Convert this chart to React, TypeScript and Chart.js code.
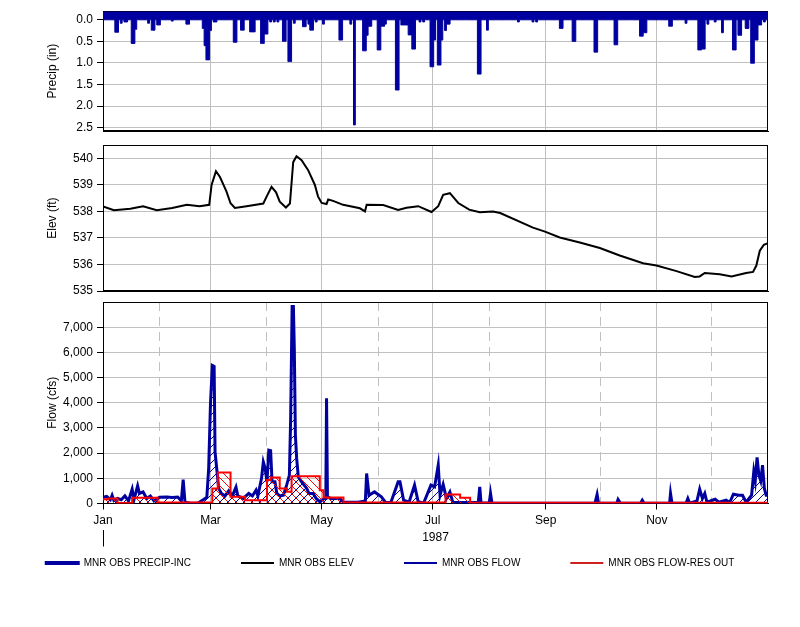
import React, { useEffect, useRef } from 'react';
import { Chart, registerables } from 'chart.js';

Chart.register(...registerables);

// ---- axis data (x = day of 1987, 0 = Jan 1) ----
const monthStarts = [0, 31, 59, 90, 120, 151, 181, 212, 243, 273, 304, 334];
const monthNames = ['Jan', 'Feb', 'Mar', 'Apr', 'May', 'Jun', 'Jul', 'Aug', 'Sep', 'Oct', 'Nov', 'Dec'];
const majorMonthDays = [0, 59, 120, 181, 243, 304];
const minorMonthDays = [31, 90, 151, 212, 273, 334];
const yearLabel = '1987';
const daysInYear = 365;

const precipTicks = [0, 0.5, 1, 1.5, 2, 2.5];
const elevTicks = [535, 536, 537, 538, 539, 540];
const flowTicks = [0, 1000, 2000, 3000, 4000, 5000, 6000, 7000];

const legendLabels = ['MNR OBS PRECIP-INC', 'MNR OBS ELEV', 'MNR OBS FLOW', 'MNR OBS FLOW-RES OUT'];

// ---- series: daily precip (in), only rainy days listed; others are 0 ----
const precipEvents: [number, number][] = [
  [7, 0.29], [8, 0.29], [10, 0.08], [12, 0.05], [13, 0.05], [16, 0.55], [17, 0.55], [18, 0.22],
  [25, 0.08], [27, 0.24], [28, 0.24], [30, 0.12], [31, 0.12], [38, 0.03], [46, 0.1], [47, 0.1],
  [55, 0.2], [56, 0.6], [57, 0.93], [58, 0.93], [59, 0.25], [61, 0.05], [62, 0.05],
  [72, 0.52], [73, 0.52], [76, 0.24], [77, 0.24], [81, 0.28], [82, 0.28], [83, 0.28],
  [87, 0.55], [88, 0.55], [89, 0.33], [90, 0.33], [92, 0.05], [94, 0.05], [96, 0.05],
  [99, 0.5], [100, 0.5], [102, 0.97], [103, 0.97], [105, 0.08], [110, 0.16], [111, 0.16],
  [113, 0.1], [114, 0.24], [115, 0.24], [117, 0.05], [121, 0.1], [130, 0.47], [131, 0.47],
  [136, 0.1], [138, 2.44], [143, 0.72], [144, 0.72], [145, 0.36], [146, 0.15], [147, 0.15],
  [151, 0.7], [152, 0.7], [153, 0.15], [154, 0.15], [155, 0.1], [161, 1.63], [162, 1.63],
  [164, 0.12], [165, 0.12], [166, 0.12], [167, 0.12], [168, 0.35], [169, 0.35], [170, 0.68],
  [171, 0.68], [174, 0.05], [176, 0.05], [180, 1.09], [181, 1.09], [182, 0.47], [184, 1.05],
  [185, 1.05], [186, 0.47], [188, 0.25], [189, 0.1], [190, 0.1], [206, 1.26], [207, 1.26],
  [211, 0.24], [228, 0.05], [236, 0.05], [238, 0.05], [251, 0.2], [252, 0.2], [258, 0.5],
  [259, 0.5], [270, 0.75], [271, 0.75], [281, 0.58], [282, 0.58], [295, 0.38], [296, 0.38],
  [297, 0.3], [298, 0.3], [311, 0.15], [312, 0.15], [320, 0.08], [327, 0.7], [328, 0.7],
  [329, 0.68], [330, 0.68], [332, 0.1], [336, 0.05], [340, 0.3], [346, 0.7], [347, 0.7],
  [349, 0.36], [350, 0.36], [353, 0.2], [354, 0.2], [356, 1.01], [357, 1.01], [358, 0.47],
  [359, 0.47], [360, 0.12], [361, 0.12], [363, 0.05],
];

// ---- series: pool elevation (ft) ----
const elevSeries: [number, number][] = [
  [0, 538.19], [6, 538.05], [15, 538.1], [22, 538.2], [29.5, 538.05], [38, 538.13], [46, 538.25],
  [53, 538.2], [58.3, 538.25], [59.6, 539.0], [62, 539.52], [64.2, 539.3], [67.8, 538.75],
  [70, 538.31], [72.4, 538.13], [78.8, 538.2], [88, 538.3], [89.8, 538.56], [92.5, 538.93],
  [95, 538.72], [97, 538.37], [100.4, 538.15], [102.6, 538.3], [104.4, 539.86], [106.2, 540.08],
  [109, 539.93], [112.6, 539.56], [116.3, 539.0], [118, 538.57], [120, 538.32], [122.7, 538.28],
  [123.6, 538.45], [126.3, 538.4], [131.8, 538.25], [141, 538.12], [143.8, 538.0], [144.7, 538.25],
  [153.8, 538.24], [162, 538.06], [166.6, 538.14], [173, 538.2], [180.3, 537.98], [184, 538.2],
  [186.7, 538.63], [190.4, 538.69], [195, 538.32], [201, 538.07], [206.8, 537.97], [214, 538.0],
  [218, 537.94], [236, 537.39], [242.6, 537.24], [250.7, 537.02], [261.7, 536.83], [272.7, 536.62],
  [283.6, 536.34], [296.4, 536.05], [303.8, 535.96], [314.8, 535.75], [324.8, 535.53],
  [327.5, 535.55], [330.3, 535.68], [338.5, 535.63], [345, 535.55], [353, 535.68], [356.8, 535.72],
  [358.6, 535.96], [360.5, 536.52], [362.7, 536.74], [365, 536.8],
];

// ---- series: observed flow (cfs) ----
const flowSeries: [number, number][] = [
  [0, 250], [2, 280], [4, 150], [5, 330], [6, 120], [8, 200], [10, 150], [12, 300], [14, 100],
  [16, 570], [17, 150], [19, 700], [20, 400], [22, 460], [24, 200], [26, 300], [28, 100],
  [31, 250], [35, 260], [38, 240], [41, 260], [43, 100], [44, 950], [45, 50], [48, 10], [52, 10],
  [55, 150], [57, 250], [58, 1400], [59, 3980], [60, 5480], [61, 5440], [61.5, 2050], [62.4, 1400],
  [63.5, 600], [65, 400], [67, 300], [69, 500], [71, 300], [73, 650], [74, 300], [77, 200],
  [80, 400], [82, 300], [84, 530], [85, 300], [87, 1000], [88, 1650], [89, 1400], [90, 860],
  [91, 2120], [92, 2100], [92.8, 860], [94.4, 860], [95.4, 400], [97, 300], [99, 330],
  [100.8, 730], [102.3, 1130], [103, 3380], [103.8, 7820], [104.5, 7820], [105, 6160],
  [105.6, 2720], [106.3, 1790], [107.2, 1060], [109, 860], [111.8, 600], [113, 400], [115.4, 400],
  [117, 200], [119, 70], [121.5, 200], [122.3, 200], [122.7, 4180], [123.2, 260], [125, 200],
  [130, 200], [132, 50], [140, 50], [144, 100], [144.7, 1190], [146, 330], [149, 460],
  [152.8, 265], [155, 50], [158, 40], [162, 860], [163, 860], [165, 130], [168, 50], [171, 730],
  [173, 70], [176, 20], [180, 730], [182, 660], [184, 1525], [185, 330], [186.7, 760],
  [188.5, 200], [190.4, 460], [192, 50], [200, 40], [206, 50], [206.8, 660], [207.5, 20],
  [212, 20], [212.7, 400], [213.5, 20], [230, 10], [250, 10], [270, 10], [271.2, 360], [272, 10],
  [282, 10], [282.7, 160], [284, 10], [295, 10], [296, 130], [297, 10], [311, 10], [311.5, 400],
  [312.3, 10], [320, 10], [321, 200], [322, 10], [326, 100], [327.5, 570], [329, 200],
  [330.3, 400], [331.5, 50], [336, 170], [338, 50], [342, 130], [344, 40], [346, 370], [349, 330],
  [351, 330], [353, 50], [356, 330], [357.2, 1260], [358, 900], [359, 1830], [360, 1130],
  [361, 900], [362, 1525], [363, 600], [364, 330], [365, 330],
];

// ---- series: reservoir outflow (cfs), value holds from day onward ----
const resOutSeries: [number, number][] = [
  [0, 170], [3, 200], [8, 20], [16, 225], [30, 40], [60, 600], [63, 1230], [70, 270], [78, 130],
  [90, 930], [92, 1030], [97, 600], [101, 470], [103.5, 1080], [119, 530], [121, 240], [132, 40],
  [188, 360], [196, 225], [201.5, 30], [365, 30],
];

const BLUE = '#0000A0';
const RED = '#FF0000';
const GRID = '#c0c0c0';
const FONT = { family: 'Arial, "Liberation Sans", sans-serif', size: 12 };

const framePlugin = {
  id: 'frame',
  beforeDatasetsDraw(chart: any) {
    const { ctx, chartArea: a } = chart;
    ctx.save();
    ctx.strokeStyle = '#000';
    ctx.lineWidth = 1;
    const l = Math.round(a.left) + 0.5;
    const t = Math.round(a.top) + 0.5;
    const r = Math.round(a.right) - 0.5;
    const b = Math.round(a.bottom) - 0.5;
    ctx.strokeRect(l, t, r - l, b - t);
    ctx.restore();
  },
};

function hatch(color: string, forward: boolean) {
  const s = 8;
  const c = document.createElement('canvas');
  c.width = s;
  c.height = s;
  const g = c.getContext('2d')!;
  g.strokeStyle = color;
  g.lineWidth = 1;
  g.beginPath();
  if (forward) {
    g.moveTo(-1, s + 1); g.lineTo(s + 1, -1);
    g.moveTo(-1, 1); g.lineTo(1, -1);
    g.moveTo(s - 1, s + 1); g.lineTo(s + 1, s - 1);
  } else {
    g.moveTo(-1, -1); g.lineTo(s + 1, s + 1);
    g.moveTo(s - 1, -1); g.lineTo(s + 1, 1);
    g.moveTo(-1, s - 1); g.lineTo(1, s + 1);
  }
  g.stroke();
  return g.createPattern(c, 'repeat') as CanvasPattern;
}

const setTicks = (vals: number[]) => (s: any) => {
  s.ticks = vals.map((v) => ({ value: v }));
};

const yAxisBase = (title: string, ticks: number[]) => ({
  type: 'linear' as const,
  afterBuildTicks: setTicks(ticks),
  afterFit: (s: any) => { s.width = 62; },
  ticks: { font: FONT, color: '#000', padding: 4 },
  grid: { color: GRID, tickColor: '#000', tickLength: 6 },
  border: { color: '#000' },
  title: { display: true, text: title, font: FONT, color: '#000', padding: { top: 4, bottom: 4 } },
});

const xHiddenAxis = () => ({
  type: 'linear' as const,
  min: 0,
  max: daysInYear,
  afterBuildTicks: setTicks(majorMonthDays),
  afterFit: (s: any) => { s.height = 0; },
  ticks: { display: false },
  grid: { color: GRID, drawTicks: false },
  border: { color: '#000' },
});

export default function App() {
  const c1 = useRef<HTMLCanvasElement>(null);
  const c2 = useRef<HTMLCanvasElement>(null);
  const c3 = useRef<HTMLCanvasElement>(null);
  const c4 = useRef<HTMLCanvasElement>(null);

  useEffect(() => {
    const byDay = new Map(precipEvents.map(([d, v]) => [d, v]));
    const precipDaily: { x: number; y: number }[] = [];
    for (let d = 0; d <= daysInYear; d++) precipDaily.push({ x: d, y: byDay.get(d) ?? 0 });

    const common = { responsive: false, animation: false as const, maintainAspectRatio: false };
    const noPlugins = { legend: { display: false }, tooltip: { enabled: false } };

    const precipChart = new Chart(c1.current!, {
      type: 'line',
      data: {
        datasets: [{
          label: legendLabels[0],
          data: precipDaily,
          stepped: 'middle',
          borderColor: BLUE,
          backgroundColor: BLUE,
          borderWidth: 1,
          pointRadius: 0,
          fill: 'end',
        }],
      },
      options: {
        ...common,
        layout: { padding: { left: 41, right: 32, top: 11, bottom: 14 } },
        plugins: noPlugins,
        scales: {
          x: xHiddenAxis(),
          y: {
            ...yAxisBase('Precip (in)', precipTicks),
            reverse: true,
            min: -0.2,
            max: 2.58,
            ticks: { font: FONT, color: '#000', padding: 4, callback: (v: any) => Number(v).toFixed(1) },
          },
        },
      },
      plugins: [framePlugin],
    } as any);

    const elevChart = new Chart(c2.current!, {
      type: 'line',
      data: {
        datasets: [{
          label: legendLabels[1],
          data: elevSeries.map(([x, y]) => ({ x, y })),
          borderColor: '#000',
          borderWidth: 2,
          pointRadius: 0,
          tension: 0,
          fill: false,
        }],
      },
      options: {
        ...common,
        layout: { padding: { left: 41, right: 32, top: 9, bottom: 13 } },
        plugins: noPlugins,
        scales: {
          x: xHiddenAxis(),
          y: {
            ...yAxisBase('Elev (ft)', elevTicks),
            min: 535,
            max: 540.5,
            ticks: { font: FONT, color: '#000', padding: 4, callback: (v: any) => String(v) },
          },
        },
      },
      plugins: [framePlugin],
    } as any);

    const flowChart = new Chart(c3.current!, {
      type: 'line',
      data: {
        datasets: [
          {
            label: legendLabels[3],
            data: resOutSeries.map(([x, y]) => ({ x, y })),
            stepped: true,
            borderColor: RED,
            backgroundColor: hatch(RED, false),
            borderWidth: 2,
            pointRadius: 0,
            fill: 'origin',
          },
          {
            label: legendLabels[2],
            data: flowSeries.map(([x, y]) => ({ x, y })),
            borderColor: BLUE,
            backgroundColor: hatch(BLUE, true),
            borderWidth: 3,
            pointRadius: 0,
            tension: 0,
            fill: 'origin',
          },
        ],
      },
      options: {
        ...common,
        layout: { padding: { left: 41, right: 32, top: 12, bottom: 17.5 } },
        plugins: noPlugins,
        scales: {
          x: {
            type: 'linear',
            min: 0,
            max: daysInYear,
            position: 'bottom',
            weight: 0,
            afterBuildTicks: setTicks(majorMonthDays),
            afterFit: (s: any) => { s.height = 26; },
            ticks: {
              font: FONT,
              color: '#000',
              padding: 4,
              autoSkip: false,
              maxRotation: 0,
              callback: (v: any) => monthNames[monthStarts.indexOf(Number(v))],
            },
            grid: { color: GRID, tickColor: '#000', tickLength: 6 },
            border: { color: '#000' },
          },
          xMinor: {
            type: 'linear',
            min: 0,
            max: daysInYear,
            position: 'top',
            afterBuildTicks: setTicks(minorMonthDays),
            afterFit: (s: any) => { s.height = 0; },
            ticks: { display: false },
            grid: { color: GRID, drawTicks: false },
            border: { display: false, dash: [9, 6] },
          },
          xYear: {
            type: 'linear',
            min: 0,
            max: daysInYear,
            position: 'bottom',
            weight: 1,
            afterBuildTicks: setTicks([0, daysInYear / 2]),
            afterFit: (s: any) => { s.height = 18; },
            ticks: {
              font: FONT,
              color: '#000',
              padding: -16,
              autoSkip: false,
              maxRotation: 0,
              callback: (_v: any, i: number) => (i === 1 ? yearLabel : ''),
            },
            grid: {
              drawOnChartArea: false,
              tickLength: 17,
              tickColor: (ctx: any) => (ctx.index === 0 ? '#000' : 'rgba(0,0,0,0)'),
            },
            border: { display: false },
          },
          y: {
            ...yAxisBase('Flow (cfs)', flowTicks),
            min: 0,
            max: 8000,
            ticks: {
              font: FONT,
              color: '#000',
              padding: 4,
              callback: (v: any) => Number(v).toLocaleString('en-US'),
            },
          },
        },
      },
      plugins: [framePlugin],
    } as any);

    const legendItems = [
      { text: legendLabels[0], fillStyle: BLUE, strokeStyle: BLUE, lineWidth: 2, hidden: false, fontColor: '#000' },
      { text: legendLabels[1], fillStyle: '#000', strokeStyle: '#000', lineWidth: 0, hidden: false, fontColor: '#000' },
      { text: legendLabels[2], fillStyle: BLUE, strokeStyle: BLUE, lineWidth: 0, hidden: false, fontColor: '#000' },
      { text: legendLabels[3], fillStyle: '#D02020', strokeStyle: '#D02020', lineWidth: 0, hidden: false, fontColor: '#000' },
    ];

    const legendChart = new Chart(c4.current!, {
      type: 'line',
      data: { datasets: [] },
      options: {
        ...common,
        layout: { padding: 0 },
        scales: { x: { display: false }, y: { display: false } },
        plugins: {
          tooltip: { enabled: false },
          legend: {
            display: true,
            position: 'top',
            maxHeight: 110,
            labels: {
              boxWidth: 33,
              boxHeight: 2,
              padding: 50,
              color: '#000',
              font: { family: FONT.family, size: 10 },
              generateLabels: () => legendItems,
            },
          },
        },
      },
    } as any);

    return () => {
      precipChart.destroy();
      elevChart.destroy();
      flowChart.destroy();
      legendChart.destroy();
    };
  }, []);

  const abs = (top: number, left = 0): React.CSSProperties => ({ position: 'absolute', left, top });

  return (
    <div style={{ position: 'absolute', left: 0, top: 0, width: 800, height: 627, background: '#fff', overflow: 'hidden' }}>
      <canvas ref={c1} width={800} height={145} style={abs(0)} />
      <canvas ref={c2} width={800} height={170} style={abs(134)} />
      <canvas ref={c3} width={800} height={275} style={abs(290)} />
      <canvas ref={c4} width={900} height={170} style={abs(508, -60)} />
    </div>
  );
}
